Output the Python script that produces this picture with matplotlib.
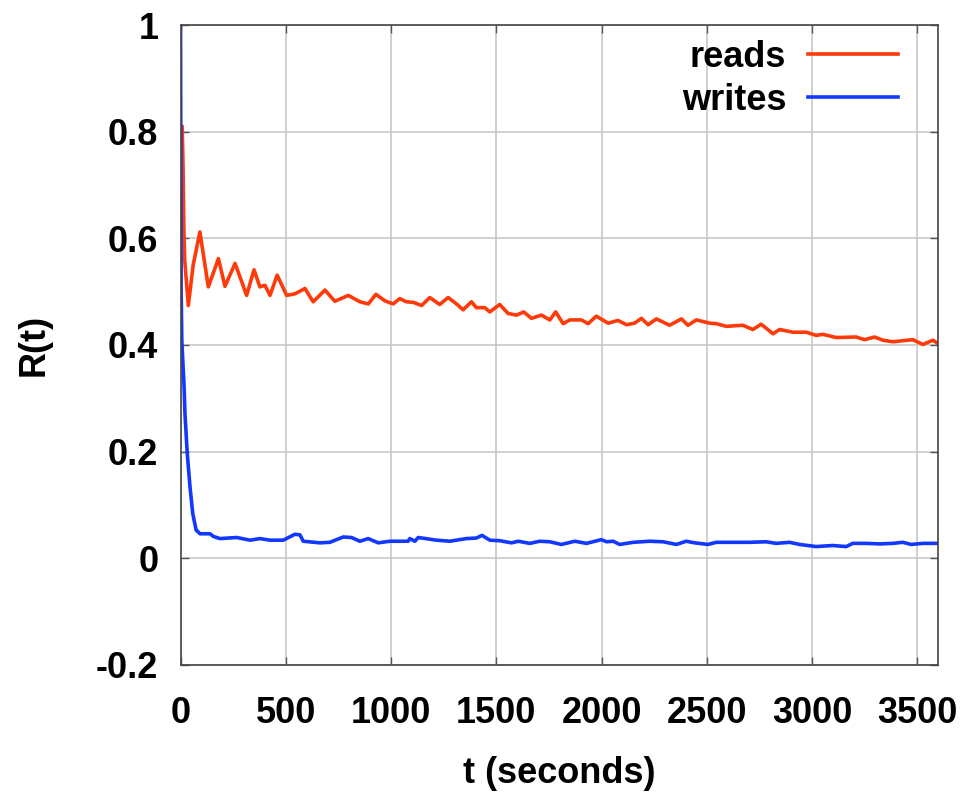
import matplotlib
matplotlib.use("Agg")
from matplotlib import pyplot as plt

READS_T = [0, 8, 12, 16, 20, 37, 60, 92, 132, 180, 211, 259, 314, 349, 377, 401, 425,
           459, 504, 544, 591, 630, 686, 733, 797, 852, 892, 928, 970, 1010, 1041,
           1073, 1105, 1145, 1184, 1231, 1271, 1311, 1342, 1382, 1405, 1445, 1469,
           1516, 1556, 1596, 1630, 1667, 1714, 1754, 1782, 1817, 1849, 1904, 1936,
           1975, 2031, 2078, 2118, 2157, 2189, 2221, 2260, 2323, 2379, 2410, 2450,
           2513, 2545, 2592, 2671, 2718, 2758, 2814, 2845, 2909, 2972, 3019, 3051,
           3114, 3209, 3249, 3296, 3336, 3383, 3478, 3526, 3573, 3605]
READS = [0.81, 0.81, 0.734, 0.615, 0.559, 0.474, 0.55, 0.612, 0.509, 0.562, 0.51,
         0.553, 0.493, 0.541, 0.509, 0.512, 0.493, 0.531, 0.493, 0.496, 0.506, 0.481,
         0.503, 0.482, 0.493, 0.481, 0.477, 0.495, 0.483, 0.477, 0.487, 0.481, 0.48,
         0.474, 0.489, 0.476, 0.489, 0.477, 0.466, 0.481, 0.47, 0.47, 0.462, 0.476,
         0.459, 0.456, 0.462, 0.45, 0.456, 0.447, 0.462, 0.44, 0.447, 0.447, 0.44,
         0.454, 0.441, 0.446, 0.438, 0.441, 0.45, 0.438, 0.449, 0.437, 0.449, 0.437,
         0.447, 0.441, 0.44, 0.435, 0.437, 0.429, 0.439, 0.421, 0.429, 0.424, 0.424,
         0.418, 0.42, 0.414, 0.415, 0.41, 0.415, 0.409, 0.406, 0.41, 0.401, 0.409,
         0.401]

WRITES_T = [0, 3, 6, 17, 21, 32, 45, 58, 74, 93, 140, 156, 187, 267, 330, 377, 425,
            488, 543, 567, 583, 662, 709, 773, 812, 852, 891, 939, 994, 1081, 1089,
            1113, 1129, 1216, 1279, 1358, 1405, 1432, 1469, 1516, 1572, 1604, 1659,
            1706, 1754, 1809, 1873, 1928, 1999, 2023, 2055, 2086, 2150, 2229, 2292,
            2355, 2402, 2442, 2505, 2545, 2624, 2703, 2782, 2829, 2893, 2940, 3019,
            3098, 3162, 3193, 3256, 3320, 3383, 3430, 3470, 3526, 3605]
WRITES = [1.0, 0.5, 0.409, 0.321, 0.272, 0.196, 0.134, 0.084, 0.053, 0.046, 0.046,
          0.041, 0.037, 0.039, 0.034, 0.037, 0.034, 0.034, 0.045, 0.044, 0.032, 0.029,
          0.03, 0.04, 0.039, 0.032, 0.037, 0.029, 0.032, 0.032, 0.037, 0.032, 0.039,
          0.034, 0.032, 0.037, 0.038, 0.043, 0.034, 0.033, 0.029, 0.032, 0.028, 0.032,
          0.031, 0.026, 0.032, 0.028, 0.035, 0.031, 0.032, 0.026, 0.03, 0.032, 0.031,
          0.026, 0.032, 0.029, 0.026, 0.03, 0.03, 0.03, 0.031, 0.028, 0.03, 0.026,
          0.022, 0.024, 0.022, 0.028, 0.028, 0.027, 0.028, 0.03, 0.026, 0.028, 0.028]

X_TICKS = [0, 500, 1000, 1500, 2000, 2500, 3000, 3500]
Y_TICKS = [-0.2, 0, 0.2, 0.4, 0.6, 0.8, 1]
Y_LABELS = ["-0.2", "0", "0.2", "0.4", "0.6", "0.8", "1"]

FS = 26

plt.rcParams["font.family"] = ["Liberation Sans", "DejaVu Sans"]
plt.rcParams["font.weight"] = "bold"

fig = plt.figure(figsize=(9.69, 7.92), dpi=100)
ax = fig.add_axes([0.1863, 0.1604, 0.7822, 0.808])

ax.plot(READS_T, READS, color="#ff3a0a", lw=2.6, label="reads")
ax.plot(WRITES_T, WRITES, color="#1238ff", lw=2.6, label="writes")

ax.set_xlim(0, 3600)
ax.set_ylim(-0.2, 1)
ax.set_xticks(X_TICKS)
ax.set_yticks(Y_TICKS)
ax.set_yticklabels(Y_LABELS)
ax.grid(True, color="#c8c8c8", lw=1.2)
ax.set_axisbelow(True)
ax.tick_params(direction="in", top=True, right=True, length=6, width=1,
               colors="#555555", labelcolor="black", labelsize=FS)
ax.tick_params(axis="x", pad=22)
ax.tick_params(axis="y", pad=16)
for s in ax.spines.values():
    s.set_color("#444444")
    s.set_linewidth(1.2)

ax.set_xlabel("t (seconds)", fontsize=FS, fontweight="bold", labelpad=18)
ax.set_ylabel("R(t)", fontsize=FS, fontweight="bold", labelpad=32)

ax.legend(loc="upper right", frameon=False, markerfirst=False, fontsize=FS,
          handlelength=2.5, handletextpad=0.6, labelspacing=0.22,
          borderpad=0.0, borderaxespad=0.0, bbox_to_anchor=(0.947, 0.977))

fig.savefig("out.png", dpi=100)
